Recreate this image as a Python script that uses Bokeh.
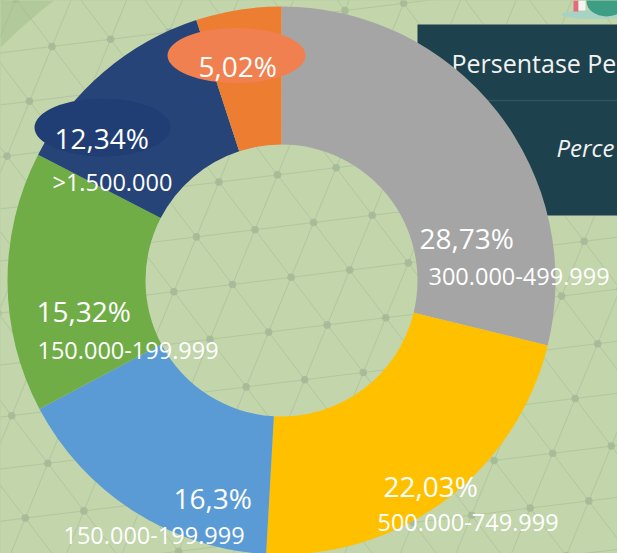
from math import pi
from bokeh.plotting import figure
from bokeh.models import Range1d, ColumnDataSource
from bokeh.core.properties import value
from bokeh.embed import file_html
from bokeh.resources import INLINE

# ---------------- data ----------------
categories = ["300.000-499.999", "500.000-749.999", "150.000-199.999",
              "150.000-199.999", ">1.500.000", ""]
shares = [28.73, 22.03, 16.3, 15.32, 12.34, 5.02]
colors = ["#a5a5a5", "#ffc000", "#5b9bd5", "#70ad47", "#264478", "#ed7d31"]
title_text = "Persentase Pe"
subtitle_text = "Perce"

# ---------------- layout (screen px; y measured from top) ----------------
W, H = 617, 553
BG = "#c2d5ab"
BG_DARK = "#b2ca9b"
CX, CY = 281, 280
R_IN, R_OUT = 136, 274
pct_pos = [(419, 237), (383, 485), (173, 497), (36, 310), (54, 137), (198, 65)]
cat_pos = [(428, 276), (377, 522), (63, 535), (37, 350), (52, 181), None]
bubbles = {4: (102, 127, 136, 58, "#203e74"), 5: (236, 55, 138, 55, "#f0804f")}

def sy(y):
    return H - y

p = figure(width=W, height=H, output_backend="svg", toolbar_location=None,
           x_range=Range1d(0, W), y_range=Range1d(0, H),
           min_border=0, background_fill_color=BG_DARK, border_fill_color=BG)
p.axis.visible = False
p.grid.visible = False
p.outline_line_color = None

# background: lighter disc leaving a darker top-left corner
p.circle(x=[400], y=[sy(450)], radius=568, fill_color=BG, line_color=None)

# decorative triangular lattice
ox, oy = 232.0, 284.0
ax_, ay_ = 58.6, -7.2
bx_, by_ = -22.5, 54.8
L = 2000
xs, ys = [], []
for k in range(-14, 15):
    px, py = ox + k * bx_, oy + k * by_
    xs.append([px - L * ax_ / 59, px + L * ax_ / 59]); ys.append([sy(py - L * ay_ / 59), sy(py + L * ay_ / 59)])
    px, py = ox + k * ax_, oy + k * ay_
    xs.append([px - L * bx_ / 59, px + L * bx_ / 59]); ys.append([sy(py - L * by_ / 59), sy(py + L * by_ / 59)])
    cx_, cy_ = ax_ + bx_, ay_ + by_
    xs.append([px - L * cx_ / 59, px + L * cx_ / 59]); ys.append([sy(py - L * cy_ / 59), sy(py + L * cy_ / 59)])
p.multi_line(xs=xs, ys=ys, line_color="#a3b894", line_alpha=0.5, line_width=1)
dx, dy = [], []
for i in range(-14, 15):
    for j in range(-14, 15):
        x = ox + i * ax_ + j * bx_
        y = oy + i * ay_ + j * by_
        if -10 < x < W + 10 and -10 < y < H + 10:
            dx.append(x); dy.append(sy(y))
p.circle(x=dx, y=dy, radius=3.8, fill_color="#a6b998", fill_alpha=0.85, line_color=None)

# small decoration top-right
p.ellipse(x=[596], y=[sy(14)], width=70, height=9, fill_color="#a7d3c4", line_color=None)
p.quad(left=[573], right=[578], top=[sy(0)], bottom=[sy(11)], fill_color="#e66a7c", line_color=None)
p.quad(left=[578], right=[585], top=[sy(0)], bottom=[sy(10)], fill_color="#f4f4f4", line_color=None)
p.ellipse(x=[606], y=[sy(1)], width=40, height=30, fill_color="#3e9e85", line_color=None)

# title box (behind the ring)
p.quad(left=[417], right=[640], top=[sy(24)], bottom=[sy(215)],
       fill_color="#1e424d", line_color=None)
p.segment(x0=[417], y0=[sy(100)], x1=[640], y1=[sy(100)],
          line_color="#2e5661", line_width=1.5)
p.text(x=[451], y=[sy(62)], text=[title_text], text_color="#f2f2f2",
       text_font=value("Open Sans"), text_font_size="25px",
       text_baseline="alphabetic", text_align="left")
p.text(x=[556], y=[sy(147)], text=[subtitle_text], text_color="#f2f2f2",
       text_font=value("Open Sans"), text_font_size="24px", text_font_style="italic",
       text_baseline="alphabetic", text_align="left")

# donut
total = sum(shares)
starts, ends = [], []
acc = 0.0
for s in shares:
    starts.append(pi / 2 - acc / total * 2 * pi)
    acc += s
    ends.append(pi / 2 - acc / total * 2 * pi)
src = ColumnDataSource(dict(start=starts, end=ends, color=colors))
p.annular_wedge(x=CX, y=sy(CY), inner_radius=R_IN, outer_radius=R_OUT,
                start_angle="start", end_angle="end", direction="clock",
                fill_color="color", line_color=None, source=src)

# label bubbles
for i, (bx, by, bw, bh, bc) in bubbles.items():
    p.ellipse(x=[bx], y=[sy(by)], width=bw, height=bh, fill_color=bc, line_color=None)

# labels
pct_text = [f"{v}".replace(".", ",") + "%" for v in shares]
for i, t in enumerate(pct_text):
    x, y = pct_pos[i]
    p.text(x=[x], y=[sy(y)], text=[t], text_color="white",
           text_font=value("Open Sans"), text_font_size="28px",
           text_baseline="alphabetic", text_align="left")
for i, t in enumerate(categories):
    if not t or cat_pos[i] is None:
        continue
    x, y = cat_pos[i]
    p.text(x=[x], y=[sy(y)], text=[t], text_color="white",
           text_font=value("Open Sans"), text_font_size="23.5px",
           text_baseline="alphabetic", text_align="left")

html = file_html(p, INLINE)
html = html.replace("</head>", "<style>body{background:%s;}</style></head>" % BG, 1)
open("out.html", "w").write(html)
